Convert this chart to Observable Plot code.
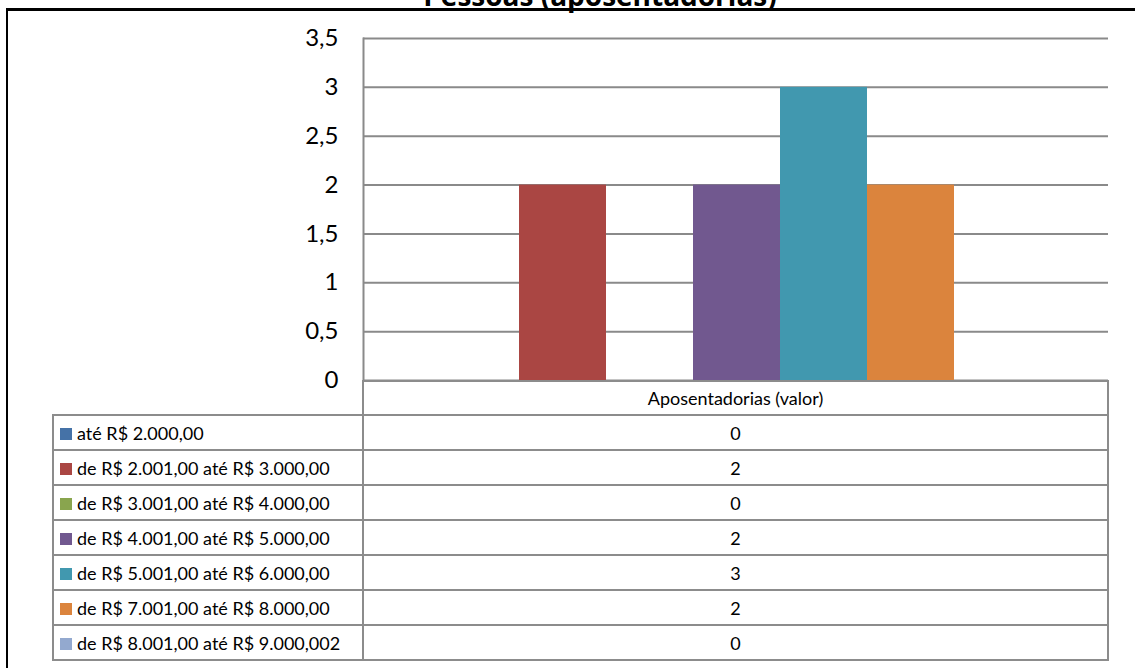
<!DOCTYPE html>
<html>
<head>
<meta charset="utf-8">
<script src="https://cdn.jsdelivr.net/npm/d3@7"></script>
<script src="https://cdn.jsdelivr.net/npm/@observablehq/plot@0.6"></script>
<style>
  html, body { margin: 0; padding: 0; background: #fff; }
  #wrap { position: relative; width: 1135px; height: 668px; overflow: hidden; font-family: Lato, "Open Sans", sans-serif; }
  #title { position: absolute; left: 0; width: 1200px; top: -24px; text-align: center; font: bold 28px "Open Sans", sans-serif; color: #000; }
  #frame { position: absolute; left: 6px; top: 8px; width: 1200px; height: 700px; border-left: 2px solid #000; border-top: 3px solid #000; box-sizing: border-box; }
  #chart { position: absolute; left: 0; top: 0; }
  table { position: absolute; left: 52px; top: 380px; border-collapse: collapse; table-layout: fixed; font-size: 18px; color: #000; }
  td { border: 2px solid #8c8c8c; height: 33px; padding: 0; }
  tr.head td { height: 32px; }
  td.lab { width: 302px; padding-left: 6px; white-space: nowrap; }
  td.val { width: 743px; text-align: center; }
  td.empty { border: none; border-right: 2px solid #8c8c8c; }
  .sw { display: inline-block; width: 12px; height: 12px; margin-right: 5px; vertical-align: 0px; }
</style>
</head>
<body>
<div id="wrap">
  <div id="title">Pessoas (aposentadorias)</div>
  <div id="frame"></div>
  <div id="chart"></div>
  <table id="tbl"></table>
</div>
<script>
const categoria = "Aposentadorias (valor)";
const series = [
  "até R$ 2.000,00",
  "de R$ 2.001,00 até R$ 3.000,00",
  "de R$ 3.001,00 até R$ 4.000,00",
  "de R$ 4.001,00 até R$ 5.000,00",
  "de R$ 5.001,00 até R$ 6.000,00",
  "de R$ 7.001,00 até R$ 8.000,00",
  "de R$ 8.001,00 até R$ 9.000,002"
];
const valores = [0, 2, 0, 2, 3, 2, 0];
const cores = ["#4572A7", "#AA4643", "#89A54E", "#71588F", "#4198AF", "#DB843D", "#93A9CF"];
const yTicks = [0, 0.5, 1, 1.5, 2, 2.5, 3, 3.5];

const data = series.map((s, i) => ({serie: s, valor: valores[i]}));
const fmt = d => String(d).replace(".", ",");

const plot = Plot.plot({
  width: 1135,
  height: 390,
  marginLeft: 363,
  marginRight: 27,
  marginTop: 38,
  marginBottom: 10,
  style: {background: "transparent", overflow: "visible"},
  x: {type: "band", domain: series, range: [429, 1044], padding: 0, axis: null},
  y: {domain: [0, 3.5], ticks: yTicks, label: null},
  color: {domain: series, range: cores},
  marks: [
    Plot.gridY(yTicks, {stroke: "#8a8a8a", strokeOpacity: 1, strokeWidth: 2}),
    Plot.barY(data, {x: "serie", y: "valor", fill: "serie"}),
    Plot.frame({anchor: "left", stroke: "#8a8a8a", strokeWidth: 2}),
    Plot.axisY(yTicks, {tickSize: 0, tickPadding: 25, fontSize: 24, tickFormat: fmt, label: null, fontFamily: "Lato, 'Open Sans', sans-serif", fill: "#000"})
  ]
});
document.getElementById("chart").appendChild(plot);

const tbl = document.getElementById("tbl");
let html = `<tr class="head"><td class="empty lab"></td><td class="val">${categoria}</td></tr>`;
series.forEach((s, i) => {
  html += `<tr><td class="lab"><span class="sw" style="background:${cores[i]}"></span>${s}</td><td class="val">${valores[i]}</td></tr>`;
});
tbl.innerHTML = html;
</script>
</body>
</html>
